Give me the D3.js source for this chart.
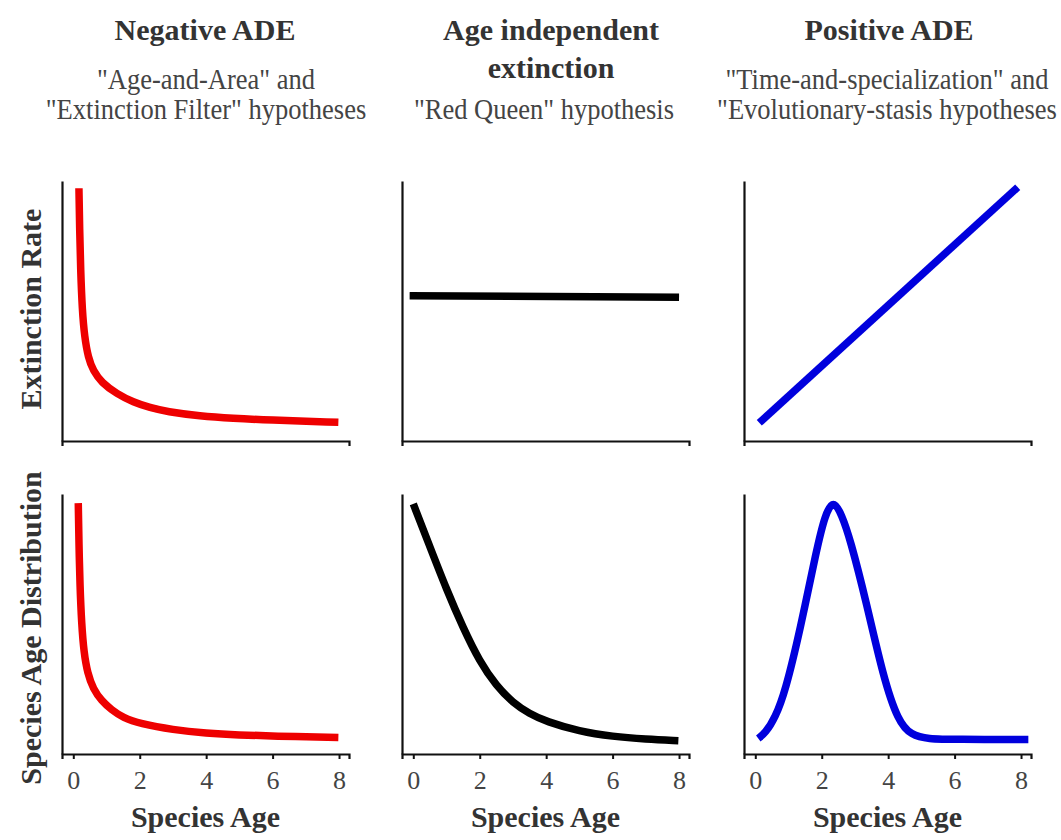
<!DOCTYPE html>
<html>
<head>
<meta charset="utf-8">
<script src="https://cdn.jsdelivr.net/npm/d3@7"></script>
<style>
  html, body { margin: 0; padding: 0; background: #fff; }
  svg { display: block; }
  text { font-family: "Liberation Serif", "Times New Roman", serif; }
</style>
</head>
<body>
<svg id="chart" width="1061" height="840"></svg>
<script>
// Column headings
const colTitles = [["Negative ADE"], ["Age independent", "extinction"], ["Positive ADE"]];
const colSubtitles = [
  ["\"Age-and-Area\" and", "\"Extinction Filter\" hypotheses"],
  ["\"Red Queen\" hypothesis"],
  ["\"Time-and-specialization\" and", "\"Evolutionary-stasis hypotheses"]
];
const rowLabels = ["Extinction Rate", "Species Age Distribution"];
const xLabel = "Species Age";
const xTicks = [0, 2, 4, 6, 8];

// Curves as [species age, relative value] pairs
const negRate = [[0.17, 9.72], [0.19, 8.2], [0.22, 6.6], [0.27, 5.0], [0.34, 4.0], [0.45, 3.2],
  [0.6, 2.7], [0.85, 2.25], [1.31, 1.81], [1.81, 1.49], [2.31, 1.28], [2.81, 1.13], [3.81, 0.96],
  [4.82, 0.87], [5.82, 0.81], [7.98, 0.72]];
const negDist = [[0.15, 9.65], [0.17, 8.1], [0.2, 6.5], [0.25, 5.0], [0.32, 3.9], [0.43, 3.1],
  [0.6, 2.5], [0.85, 2.05], [1.15, 1.7], [1.5, 1.4], [2.0, 1.17], [3.0, 0.93], [4.0, 0.8],
  [5.0, 0.73], [6.0, 0.69], [7.98, 0.63]];
const flatRate = [[-0.11, 5.59], [8.0, 5.53]];
const flatDist = [[0.0, 9.62], [0.5, 7.97], [1.0, 6.33], [1.5, 4.85], [2.0, 3.55], [2.5, 2.62],
  [3.0, 1.97], [3.5, 1.55], [4.0, 1.25], [5.0, 0.87], [6.0, 0.67], [7.0, 0.57], [7.98, 0.51]];
const posRate = [[0.12, 0.70], [7.9, 9.76]];
const posDist = [[0.09, 0.6], [0.3, 0.8], [0.6, 1.4], [0.9, 2.4], [1.35, 4.77], [1.85, 7.9],
  [2.1, 9.2], [2.35, 9.8], [2.6, 9.2], [2.85, 8.3], [3.35, 5.8], [3.85, 2.97], [4.3, 1.25],
  [4.7, 0.72], [5.2, 0.58], [6.0, 0.56], [8.22, 0.56]];

const panels = [
  { col: 0, row: 0, data: negRate, color: "#ee0000" },
  { col: 1, row: 0, data: flatRate, color: "#000000" },
  { col: 2, row: 0, data: posRate, color: "#0000dd" },
  { col: 0, row: 1, data: negDist, color: "#ee0000" },
  { col: 1, row: 1, data: flatDist, color: "#000000" },
  { col: 2, row: 1, data: posDist, color: "#0000dd" }
];

// Layout
const colLeft = [62, 402, 744];
const rowTop = [181, 494];
const pw = 287, ph = 260;
const colCenter = colLeft.map(l => l + pw / 2);

const svg = d3.select("#chart");

const x = d3.scaleLinear().domain([-0.34, 8.3]).range([0, pw]);
const y = d3.scaleLinear().domain([0, 10]).range([ph, 0]);

const line = d3.line()
  .x(d => x(d[0]))
  .y(d => y(d[1]))
  .curve(d3.curveBasis);

panels.forEach(p => {
  const g = svg.append("g")
    .attr("transform", `translate(${colLeft[p.col]},${rowTop[p.row]})`);

  // x axis: ticks only on the bottom row
  const xa = d3.axisBottom(x).tickSizeOuter(0).tickSize(5);
  if (p.row === 1) xa.tickValues(xTicks).tickFormat(d3.format("d"));
  else xa.tickValues([]);
  const gx = g.append("g").attr("transform", `translate(0,${ph})`).call(xa);
  gx.select(".domain").attr("stroke", "#111").attr("stroke-width", 2.2);
  gx.selectAll(".tick line").attr("stroke", "#111").attr("stroke-width", 2);
  gx.selectAll(".tick text")
    .attr("y", 35).attr("dy", 0)
    .attr("fill", "#444")
    .style("font-family", "'Liberation Serif', serif")
    .style("font-size", "26px");

  // y axis: bare line
  const ya = d3.axisLeft(y).tickValues([]).tickSizeOuter(0);
  const gy = g.append("g").call(ya);
  gy.select(".domain").attr("stroke", "#111").attr("stroke-width", 2.2);

  g.append("path")
    .datum(p.data)
    .attr("fill", "none")
    .attr("stroke", p.color)
    .attr("stroke-width", 7.5)
    .attr("stroke-linecap", "butt")
    .attr("stroke-linejoin", "round")
    .attr("d", line);
});

// Column titles
const titleX = [205, 551, 889];
const subX = [206, 544, 887];
colTitles.forEach((lines, i) => {
  lines.forEach((t, j) => {
    svg.append("text")
      .attr("x", titleX[i]).attr("y", 40 + j * 38)
      .attr("text-anchor", "middle")
      .attr("font-weight", "bold")
      .attr("font-size", 30)
      .attr("fill", "#333")
      .text(t);
  });
});
colSubtitles.forEach((lines, i) => {
  const base = lines.length === 1 ? 119 : 89;
  lines.forEach((t, j) => {
    svg.append("text")
      .attr("transform", `translate(${subX[i]},${base + j * 30}) scale(1,1.08)`)
      .attr("text-anchor", "middle")
      .attr("font-size", 26.5)
      .attr("fill", "#444")
      .text(t);
  });
});

// Row labels
const rowLabelY = [309, 628];
rowLabels.forEach((t, i) => {
  svg.append("text")
    .attr("transform", `translate(41,${rowLabelY[i]}) rotate(-90)`)
    .attr("text-anchor", "middle")
    .attr("font-weight", "bold")
    .attr("font-size", 30)
    .attr("fill", "#333")
    .text(t);
});

// x-axis titles
colCenter.forEach(cx => {
  svg.append("text")
    .attr("x", cx).attr("y", 827)
    .attr("text-anchor", "middle")
    .attr("font-weight", "bold")
    .attr("font-size", 30)
    .attr("fill", "#333")
    .text(xLabel);
});
</script>
</body>
</html>
